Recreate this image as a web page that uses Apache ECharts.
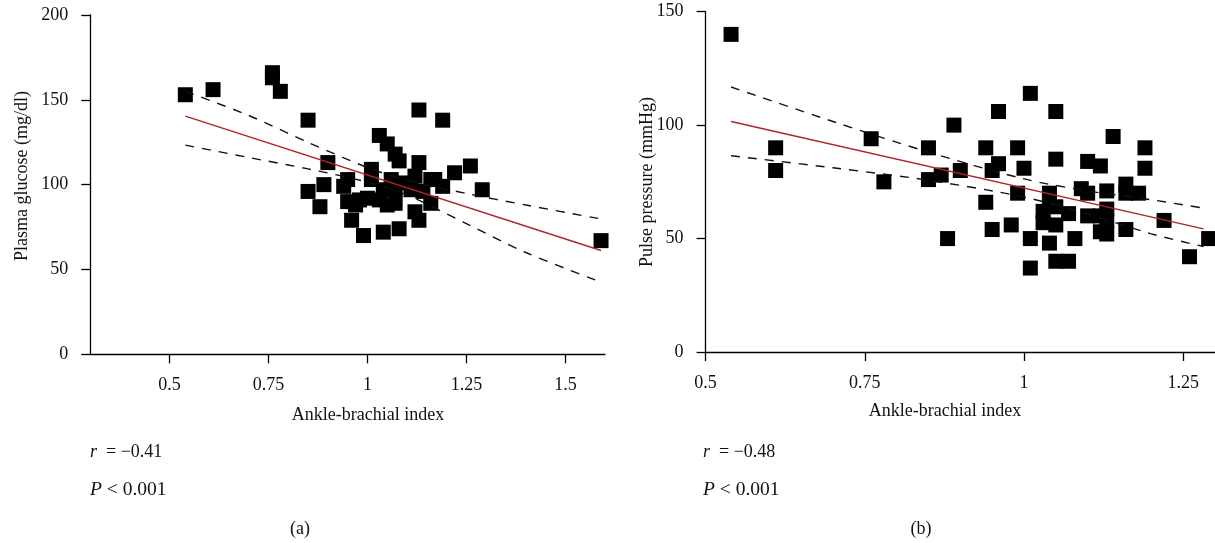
<!DOCTYPE html>
<html>
<head>
<meta charset="utf-8">
<script src="https://cdn.jsdelivr.net/npm/echarts@6/dist/echarts.min.js"></script>
<style>
html,body{margin:0;padding:0;background:#fff;}
#chart{width:1215px;height:543px;}
</style>
</head>
<body>
<div id="chart"></div>
<script>
// ---- Panel (a): ABI vs plasma glucose ----
const abiA = [0.54,0.61,0.76,0.76,0.78,0.85,0.85,0.88,0.89,0.90,0.94,0.95,0.95,0.96,0.97,0.98,0.99,1.00,1.01,1.01,1.03,1.03,1.04,1.04,1.05,1.05,1.06,1.07,1.07,1.07,1.08,1.08,1.09,1.11,1.12,1.12,1.13,1.13,1.13,1.14,1.16,1.16,1.17,1.19,1.19,1.22,1.26,1.29,1.59];
const glucoseA = [153,156,166,163,155,138,96,87,100,113,99,103,90,79,88,91,70,92,109,103,129,91,72,97,124,88,103,118,89,97,114,74,101,97,105,84,144,113,79,96,103,89,103,138,99,107,111,97,67];
const fitA_x = [0.54, 1.59];
const fitA_y = [140.4, 61.2];
const bandA_x = [0.54, 0.70, 0.85, 1.00, 1.10, 1.25, 1.40, 1.59];
const bandA_upper = [155.0, 140.8, 124.9, 110.1, 102.5, 94.8, 88.0, 79.8];
const bandA_lower = [123.3, 116.0, 109.3, 101.5, 93.9, 77.0, 60.0, 42.5];

// ---- Panel (b): ABI vs pulse pressure ----
const abiB = [0.54,0.61,0.61,0.76,0.78,0.85,0.85,0.87,0.88,0.89,0.90,0.94,0.94,0.95,0.95,0.96,0.96,0.98,0.99,0.99,1.00,1.01,1.01,1.01,1.03,1.03,1.04,1.04,1.04,1.05,1.05,1.05,1.05,1.05,1.07,1.07,1.08,1.09,1.10,1.10,1.10,1.12,1.12,1.12,1.13,1.13,1.13,1.13,1.14,1.16,1.16,1.16,1.18,1.19,1.19,1.22,1.26,1.29];
const pulseB = [140,90,80,94,75,90,76,78,50,100,80,90,66,80,54,106,83,56,90,70,81,114,50,37,62,57,70,67,48,106,85,64,56,40,61,40,50,72,84,70,60,82,60,53,71,63,58,52,95,74,70,54,70,90,81,58,42,50];
const fitB_x = [0.54, 1.282];
const fitB_y = [101.6, 54.3];
const bandB_x = [0.54, 0.70, 0.85, 1.00, 1.10, 1.20, 1.282];
const bandB_upper = [116.8, 101.6, 88.1, 76.3, 71.0, 67.1, 63.4];
const bandB_lower = [86.5, 81.2, 75.7, 68.3, 60.8, 52.1, 46.5];

// ---- Tick labels ----
const xTicksA = [0.5, 0.75, 1, 1.25, 1.5];
const xTicksB = [0.5, 0.75, 1, 1.25];

const FONT = '"Liberation Serif", "DejaVu Serif", serif';
const zip = (xs, ys) => xs.map((x, i) => [x, ys[i]]);

const axisCommon = {
  axisLine: { show: true, onZero: false, lineStyle: { color: '#000', width: 1.3 } },
  axisTick: { show: true, inside: false, length: 9, lineStyle: { color: '#000', width: 1.3 } },
  splitLine: { show: false },
  axisLabel: { color: '#111', fontFamily: FONT, fontSize: 18 }
};

function xAxis(idx, min, max, ticks) {
  return Object.assign({}, axisCommon, {
    type: 'value', gridIndex: idx, min: min, max: max,
    axisTick: Object.assign({}, axisCommon.axisTick, { customValues: ticks }),
    axisLabel: Object.assign({}, axisCommon.axisLabel, { customValues: ticks, margin: 22 })
  });
}
function yAxis(idx, max, margin) {
  return Object.assign({}, axisCommon, {
    type: 'value', gridIndex: idx, min: 0, max: max, interval: 50,
    axisLabel: Object.assign({}, axisCommon.axisLabel, { margin: margin })
  });
}

const sq = { type: 'scatter', symbol: 'rect', symbolSize: 15, itemStyle: { color: '#000', opacity: 1 }, z: 2, silent: true };
const redLine = { type: 'line', symbol: 'none', lineStyle: { color: '#b0242a', width: 1.4 }, z: 4, silent: true };
const dashLine = { type: 'line', symbol: 'none', smooth: 0.3, lineStyle: { color: '#111', width: 1.4, type: [9, 8] }, z: 3, silent: true };

const statText = (x, y, letter, rest, size) => ({
  type: 'text', x: x, y: y,
  style: {
    text: '{i|' + letter + '}{n|' + rest + '}',
    rich: {
      i: { fontFamily: FONT, fontSize: size, fontStyle: 'italic', fill: '#111' },
      n: { fontFamily: FONT, fontSize: size, fill: '#111' }
    },
    verticalAlign: 'middle'
  }
});
const centerText = (x, y, text, rot) => ({
  type: 'text', x: x, y: y, rotation: rot || 0,
  style: { text: text, fontFamily: FONT, fontSize: 18, fill: '#111', align: 'center', verticalAlign: 'middle' }
});

const option = {
  animation: false,
  backgroundColor: '#fff',
  grid: [
    { left: 90.3, top: 15, width: 514.7, height: 339.3, containLabel: false },
    { left: 705.6, top: 11.7, width: 509.4, height: 340.3, containLabel: false }
  ],
  xAxis: [xAxis(0, 0.3, 1.6, xTicksA), xAxis(1, 0.5, 1.3, xTicksB)],
  yAxis: [yAxis(0, 200, 22), yAxis(1, 150, 22)],
  series: [
    Object.assign({}, sq, { xAxisIndex: 0, yAxisIndex: 0, data: zip(abiA, glucoseA) }),
    Object.assign({}, redLine, { xAxisIndex: 0, yAxisIndex: 0, data: zip(fitA_x, fitA_y) }),
    Object.assign({}, dashLine, { xAxisIndex: 0, yAxisIndex: 0, data: zip(bandA_x, bandA_upper) }),
    Object.assign({}, dashLine, { xAxisIndex: 0, yAxisIndex: 0, data: zip(bandA_x, bandA_lower) }),
    Object.assign({}, sq, { xAxisIndex: 1, yAxisIndex: 1, data: zip(abiB, pulseB) }),
    Object.assign({}, redLine, { xAxisIndex: 1, yAxisIndex: 1, data: zip(fitB_x, fitB_y) }),
    Object.assign({}, dashLine, { xAxisIndex: 1, yAxisIndex: 1, data: zip(bandB_x, bandB_upper) }),
    Object.assign({}, dashLine, { xAxisIndex: 1, yAxisIndex: 1, data: zip(bandB_x, bandB_lower) })
  ],
  graphic: [
    centerText(22, 176, 'Plasma glucose (mg/dl)', Math.PI / 2),
    centerText(647, 182, 'Pulse pressure (mmHg)', Math.PI / 2),
    centerText(368, 415, 'Ankle-brachial index'),
    centerText(945, 411, 'Ankle-brachial index'),
    statText(90, 452, 'r', '\u2002= \u22120.41', 18),
    statText(90, 490, 'P', ' < 0.001', 19.5),
    statText(703, 452, 'r', '\u2002= \u22120.48', 18),
    statText(703, 490, 'P', ' < 0.001', 19.5),
    centerText(300, 529, '(a)'),
    centerText(921, 529, '(b)')
  ]
};

const chart = echarts.init(document.getElementById('chart'), null, { renderer: 'canvas' });
chart.setOption(option);
</script>
</body>
</html>
